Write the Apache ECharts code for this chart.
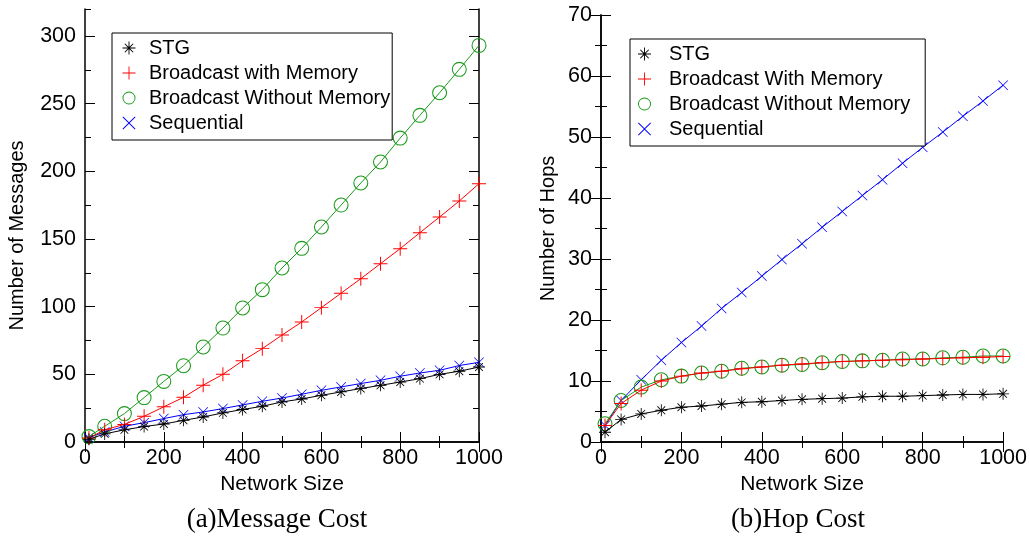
<!DOCTYPE html>
<html><head><meta charset="utf-8">
<script src="https://cdn.jsdelivr.net/npm/echarts@6/dist/echarts.min.js"></script>
<style>html,body{margin:0;padding:0;background:#fff}#c{width:1030px;height:536px}</style>
</head><body><div id="c"></div>
<script>
// ---- data ----
const networkSize = [10,50,100,150,200,250,300,350,400,450,500,550,600,650,700,750,800,850,900,950,1000];
const msgSTG  = [2,6,9,11.4,13.3,16,18.5,21.5,24,26.4,29.6,31.8,34.5,37,39.5,41.9,44.3,46.8,50,52.3,55.4];
const msgBwM  = [3,9,13,19,26,33,42,50,60,69,79,88.7,99.3,110,120.7,131.8,142.9,154.7,166.3,178.1,190.9];
const msgBwoM = [4,11.6,21,32.8,44.8,56.4,70.2,84.2,99,112.6,128.6,143.1,158.9,175.1,191.4,206.9,224.6,241.4,258.1,275.4,293.1];
const msgSeq  = [3.2,7.4,11.6,14.3,17.3,20.2,22.2,24.7,27.4,30.1,32.5,35.3,38.2,40.7,43.2,45.6,48.6,51,53,56.5,58.9];
const hopSTG  = [1.6,3.7,4.6,5.2,5.7,5.9,6.2,6.5,6.6,6.8,7.0,7.1,7.2,7.4,7.5,7.5,7.6,7.7,7.8,7.8,7.9];
const hopBwM  = [2.7,6.3,8.5,10.0,10.8,11.3,11.6,12.0,12.3,12.6,12.8,13.0,13.2,13.3,13.4,13.5,13.6,13.7,13.8,13.9,14.0];
const hopBwoM = [3.0,6.8,9.0,10.2,10.8,11.3,11.6,12.1,12.3,12.6,12.7,13.0,13.2,13.3,13.4,13.6,13.6,13.8,13.9,14.1,14.1];
const hopSeq  = [2.7,6.8,10.2,13.4,16.3,19,21.9,24.5,27.2,29.9,32.5,35.2,37.8,40.4,43,45.7,48.3,50.8,53.4,55.9,58.5];
const leftNames  = ['STG','Broadcast with Memory','Broadcast Without Memory','Sequential'];
const rightNames = ['STG','Broadcast With Memory','Broadcast Without Memory','Sequential'];
const xName = 'Network Size';
const yNameLeft = 'Number of Messages';
const yNameRight = 'Number of Hops';
const captionLeft = '(a)Message Cost';
const captionRight = '(b)Hop Cost';

// ---- styling ----
const COLORS = ['#000000','#ff0000','#1a9a1a','#0000ff'];
const STAR  = 'path://M9.3,0h1.4v9.3h9.3v1.4h-9.3v9.3h-1.4v-9.3h-9.3v-1.4h9.3z M3,4L4,3L10,9L16,3L17,4L11,10L17,16L16,17L10,11L4,17L3,16L9,10Z';
const PLUS  = 'path://M9.3,0h1.4v9.3h9.3v1.4h-9.3v9.3h-1.4v-9.3h-9.3v-1.4h9.3z';
const RING  = 'path://M10,0A10,10 0 1,1 10,20A10,10 0 1,1 10,0Z M10,1.4A8.6,8.6 0 1,0 10,18.6A8.6,8.6 0 1,0 10,1.4Z';
const CROSS = 'path://M0,1L1,0L10,9L19,0L20,1L11,10L20,19L19,20L10,11L1,20L0,19L9,10Z';
const SYMS = [STAR, PLUS, RING, CROSS];
const SIZES = [12, 14, 15, 10];
const FONT = 'Liberation Sans';
const TICKFS = 21.5;
const plain = v => String(v);

function pts(arr){ return networkSize.map((x,i)=>[x, arr[i]]); }
function mkSeries(name, arr, k, xi, yi){
  return {type:'line', name, data: pts(arr), xAxisIndex:xi, yAxisIndex:yi,
    symbol: SYMS[k], symbolSize: SIZES[k], symbolKeepAspect:true,
    itemStyle:{color:COLORS[k], borderWidth:0},
    lineStyle:{color:COLORS[k], width:1}, emphasis:{disabled:true}, animation:false, z: 2 + (3-k)};
}
const line = {show:true, lineStyle:{color:'#000', width:1.5}};
function xAx(grid, pos, labels){
  return {type:'value', gridIndex:grid, position:pos, min:0, max:1000, interval:200,
    axisLine: line, splitLine:{show:false},
    axisTick:{show:true, inside:true, length:10, lineStyle:{color:'#000', width:1}},
    minorTick:{show:true, splitNumber:2, length:6, lineStyle:{color:'#000', width:1}},
    axisLabel:{show:labels, margin:5, color:'#000', fontSize:TICKFS, fontFamily:FONT, formatter:plain},
    name: labels ? xName : '', nameLocation:'middle', nameGap:31,
    nameTextStyle:{color:'#000', fontSize:21, fontFamily:FONT}};
}
function yAx(grid, pos, max, interval, tickLen, labels, showLine, name, nameGap, namePad){
  return {type:'value', gridIndex:grid, position:pos, min:0, max:max, interval:interval,
    axisLine: showLine ? line : {show:false}, splitLine:{show:false},
    axisTick:{show:true, inside:true, length:tickLen, lineStyle:{color:'#000', width:1}},
    axisLabel:{show:labels, margin:9, color:'#000', fontSize:TICKFS, fontFamily:FONT, showMaxLabel:false, formatter:plain},
    name: name || '', nameLocation:'middle', nameGap: nameGap || 0, nameRotate:90,
    nameTextStyle:{color:'#000', fontSize:20, fontFamily:FONT, padding: namePad || 0}};
}
function yAxMinor(grid, pos, max, interval, labels, name, nameGap, namePad){
  const a = yAx(grid, pos, max, interval, 10, labels, true, name, nameGap, namePad);
  a.minorTick = {show:true, splitNumber:2, length:6, lineStyle:{color:'#000', width:1}};
  a.axisLabel.showMaxLabel = true;
  return a;
}

function legend(names, left, top, pad, itemW){
  return {orient:'vertical', left, top, padding:pad, itemGap:5, itemWidth:itemW, itemHeight:13,
    borderColor:'#000', borderWidth:1, backgroundColor:'#fff', selectedMode:false,
    textStyle:{fontSize:20, fontFamily:FONT, color:'#000'},
    data: names.map((n,k)=>({name:n, icon:SYMS[k], itemStyle:{color:COLORS[k]}}))};
}

const chart = echarts.init(document.getElementById('c'), null, {renderer:'canvas'});
chart.setOption({
  animation:false,
  backgroundColor:'#fff',
  grid:[{left:85, right:551, top:9, bottom:94}, {left:601, right:26, top:15, bottom:94}],
  xAxis:[xAx(0,'bottom',true), xAx(0,'top',false), xAx(1,'bottom',true), xAx(1,'top',false)],
  yAxis:[
    yAx(0,'left',320,50,10,true,true,yNameLeft,58,[0,20,0,0]),
    yAx(0,'left',320,25,6,false,false),
    yAx(0,'right',320,50,10,false,true),
    yAx(0,'right',320,25,6,false,false),
    yAxMinor(1,'left',70,10,true,yNameRight,43),
    yAxMinor(1,'right',70,10,false)
  ],
  legend:[legend(leftNames, 112, 33, [5,2,7,10.5], 30), legend(rightNames, 630, 39, [5,15,7,8], 39)],
  series:[
    mkSeries(leftNames[0], msgSTG, 0, 0, 0),
    mkSeries(leftNames[1], msgBwM, 1, 0, 0),
    mkSeries(leftNames[2], msgBwoM, 2, 0, 0),
    mkSeries(leftNames[3], msgSeq, 3, 0, 0),
    mkSeries(rightNames[0], hopSTG, 0, 2, 4),
    mkSeries(rightNames[1], hopBwM, 1, 2, 4),
    mkSeries(rightNames[2], hopBwoM, 2, 2, 4),
    mkSeries(rightNames[3], hopSeq, 3, 2, 4)
  ],
  graphic:[
    {type:'text', x:277, y:520, style:{text:captionLeft, align:'center', verticalAlign:'middle', font:'27px "Liberation Serif"', fill:'#000'}},
    {type:'text', x:798, y:520, style:{text:captionRight, align:'center', verticalAlign:'middle', font:'27px "Liberation Serif"', fill:'#000'}}
  ]
});
</script></body></html>
